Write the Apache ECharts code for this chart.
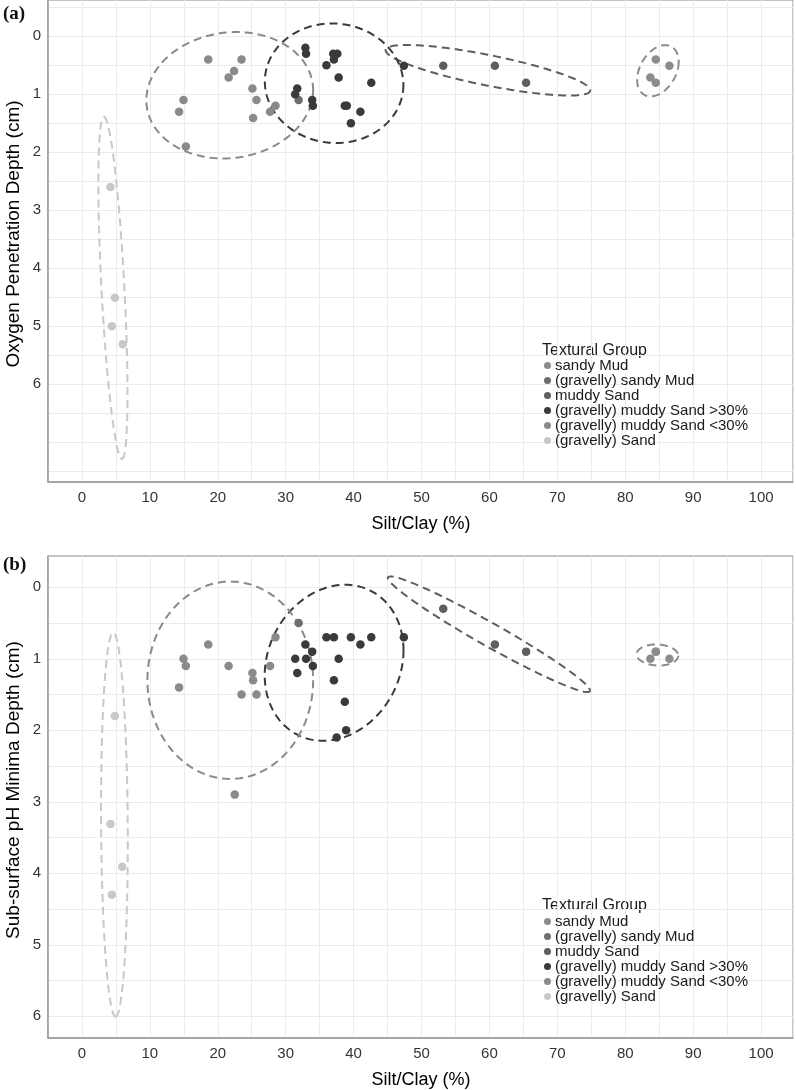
<!DOCTYPE html>
<html><head><meta charset="utf-8">
<script src="https://cdn.jsdelivr.net/npm/echarts@6/dist/echarts.min.js"></script>
<style>html,body{margin:0;padding:0;background:#fff}#c{width:796px;height:1090px}</style>
</head><body><div id="c"></div>
<script>
// ---------- categories / styling keys ----------
const groups = ['sandy Mud', '(gravelly) sandy Mud', 'muddy Sand',
  '(gravelly) muddy Sand >30%', '(gravelly) muddy Sand <30%', '(gravelly) Sand'];
const groupColors = ['#8c8c8c', '#6e6e6e', '#5e5e5e', '#3a3a3a', '#8a8a8a', '#c8c8c8'];

// ---------- tick labels ----------
const xTickLabels = [0, 10, 20, 30, 40, 50, 60, 70, 80, 90, 100];
const yTickLabelsA = [0, 1, 2, 3, 4, 5, 6];
const yTickLabelsB = [0, 1, 2, 3, 4, 5, 6];

// ---------- panel (a): Silt/Clay (%) vs Oxygen Penetration Depth (cm) ----------
const a_sandyMud = [[84.5, 0.40], [86.5, 0.51], [83.7, 0.71], [84.5, 0.80]];
const a_gravSandyMud = [[31.9, 1.10]];
const a_muddySand = [[53.2, 0.51], [60.8, 0.51], [65.4, 0.80]];
const a_muddySandGt30 = [[32.9, 0.20], [33.0, 0.30], [31.7, 0.90], [31.4, 1.00], [33.9, 1.10], [34.0, 1.20],
  [36.0, 0.50], [37.0, 0.30], [37.6, 0.30], [37.1, 0.40], [37.8, 0.71], [38.7, 1.20], [39.0, 1.20],
  [39.6, 1.50], [41.0, 1.30], [42.6, 0.80], [47.4, 0.51]];
const a_muddySandLt30 = [[14.3, 1.30], [14.95, 1.10], [15.3, 1.90], [18.6, 0.40], [21.6, 0.71], [22.4, 0.60],
  [23.5, 0.40], [25.1, 0.90], [25.7, 1.10], [25.2, 1.41], [27.7, 1.30], [28.5, 1.20]];
const a_sand = [[4.2, 2.60], [4.85, 4.51], [4.4, 5.00], [6.0, 5.31]];

// ellipses: [centreX, centreY, uX, uY, vX, vY]  (conjugate semi-axes)
const a_ellSandyMud = [84.81, 0.595, 3.06, -0.155, 0, 0.414];
const a_ellMuddySand = [59.78, 0.586, 15.07, 0.345, 0, 0.267];
const a_ellGt30 = [37.13, 0.81, 10.2, 0.03, 0, 1.03];
const a_ellLt30 = [21.76, 1.017, 12.28, -0.086, 0, 1.086];
const a_ellSand = [4.56, 4.34, 1.32, 2.95, 1.69, 0];

// ---------- panel (b): Silt/Clay (%) vs Sub-surface pH Minima Depth (cm) ----------
const b_sandyMud = [[84.5, 0.90], [83.7, 1.00], [86.5, 1.00], [84.5, 0.90]];
const b_gravSandyMud = [[31.9, 0.50]];
const b_muddySand = [[53.2, 0.30], [60.8, 0.80], [65.4, 0.90]];
const b_muddySandGt30 = [[32.9, 0.80], [31.4, 1.00], [33.0, 1.00], [33.9, 0.90], [34.0, 1.10], [31.7, 1.20],
  [36.0, 0.70], [37.1, 0.70], [37.8, 1.00], [37.1, 1.30], [38.7, 1.60], [38.9, 2.00], [37.5, 2.10],
  [39.6, 0.70], [41.0, 0.80], [42.6, 0.70], [47.4, 0.70]];
const b_muddySandLt30 = [[14.3, 1.40], [14.95, 1.00], [15.3, 1.10], [18.6, 0.80], [21.6, 1.10], [22.5, 2.90],
  [23.5, 1.50], [25.1, 1.20], [25.2, 1.30], [25.7, 1.50], [27.7, 1.10], [28.5, 0.70]];
const b_sand = [[4.85, 1.80], [4.2, 3.31], [5.93, 3.91], [4.4, 4.30]];

const b_ellSandyMud = [84.74, 0.947, 3.06, 0.01, 0, 0.147];
const b_ellMuddySand = [59.93, 0.657, 14.88, 0.787, 0, 0.186];
const b_ellGt30 = [37.13, 1.056, 10.22, -0.175, 0, 1.077];
const b_ellLt30 = [21.84, 1.30, 12.2, 0, 0, 1.38];
const b_ellSand = [4.78, 3.32, 0.176, 2.685, 1.96, 0];

// ---------- build ----------
const mainFont = "'Liberation Sans', Arial, sans-serif";
const GRID_C = '#ebebeb';
const NONE = 'rgba(0,0,0,0)';

function isTick(v, list) {
  const r = Math.round(v);
  return Math.abs(v - r) < 1e-6 && list.indexOf(r) >= 0 ? String(r) : '';
}

function xAxisCfg(gi) {
  return {
    type: 'value', gridIndex: gi, min: -5, max: 104.7, interval: 5,
    axisLine: { show: true, onZero: false, lineStyle: { color: '#9a9a9a', width: 1.5 } },
    axisTick: { show: false },
    axisLabel: { margin: 8, color: '#333', fontSize: 15, fontFamily: mainFont,
      formatter: v => isTick(v, xTickLabels) },
    splitLine: { show: true, lineStyle: { color: GRID_C, width: 1 } }
  };
}
function yAxisCfg(gi, min, max, interval, colorPattern, labels) {
  return {
    type: 'value', gridIndex: gi, inverse: true, min: min, max: max, interval: interval,
    axisLine: { show: true, onZero: false, lineStyle: { color: '#9a9a9a', width: 1.5 } },
    axisTick: { show: false },
    axisLabel: { margin: 7, color: '#333', fontSize: 15, fontFamily: mainFont,
      formatter: v => isTick(v, labels) },
    splitLine: { show: true, lineStyle: { color: colorPattern, width: 1 } }
  };
}

function ellipseRender(params, api) {
  const cx = api.value(0), cy = api.value(1), ux = api.value(2), uy = api.value(3),
    vx = api.value(4), vy = api.value(5);
  const pts = [];
  const N = 160;
  for (let i = 0; i <= N; i++) {
    const t = i / N * 2 * Math.PI;
    pts.push(api.coord([cx + ux * Math.cos(t) + vx * Math.sin(t), cy + uy * Math.cos(t) + vy * Math.sin(t)]));
  }
  return { type: 'polyline', shape: { points: pts },
    style: { fill: 'none', stroke: api.visual('color'), lineWidth: 2, lineDash: [8, 5] } };
}

const panelA = [a_sandyMud, a_gravSandyMud, a_muddySand, a_muddySandGt30, a_muddySandLt30, a_sand];
const panelB = [b_sandyMud, b_gravSandyMud, b_muddySand, b_muddySandGt30, b_muddySandLt30, b_sand];
const ellA = [a_ellSandyMud, null, a_ellMuddySand, a_ellGt30, a_ellLt30, a_ellSand];
const ellB = [b_ellSandyMud, null, b_ellMuddySand, b_ellGt30, b_ellLt30, b_ellSand];

const series = [];
[[ellA, 0], [ellB, 1]].forEach(([ells, gi]) => {
  ells.forEach((e, k) => {
    if (!e) return;
    series.push({ type: 'custom', name: 'ellipse ' + gi + '-' + k, xAxisIndex: gi, yAxisIndex: gi,
      renderItem: ellipseRender, data: [e], silent: true, clip: true, z: 2,
      itemStyle: { color: groupColors[k] }, encode: { x: 0, y: 1 } });
  });
});
[[panelA, 0], [panelB, 1]].forEach(([pan, gi]) => {
  pan.forEach((d, k) => {
    series.push({ type: 'scatter', name: groups[k], xAxisIndex: gi, yAxisIndex: gi,
      data: d, symbolSize: 8.5, z: 3, itemStyle: { color: groupColors[k], opacity: 1 } });
  });
});

function legendCfg(top) {
  return { data: groups, orient: 'vertical', left: 544, top: top, padding: 0, itemGap: 0,
    itemWidth: 7, itemHeight: 7, icon: 'circle', selectedMode: false,
    textStyle: { fontSize: 15, lineHeight: 12.2, color: '#1a1a1a', fontFamily: mainFont, padding: [0, 0, 0, -1] } };
}

const option = {
  backgroundColor: '#fff',
  animation: false,
  grid: [
    { left: 48, top: 0, width: 746, height: 482, show: true, borderColor: '#8a8a8a', borderWidth: 1, containLabel: false },
    { left: 48, top: 556, width: 746, height: 482, show: true, borderColor: '#8a8a8a', borderWidth: 1, containLabel: false }
  ],
  xAxis: [xAxisCfg(0), xAxisCfg(1)],
  yAxis: [
    yAxisCfg(0, -0.625, 7.685, 0.125, [NONE, GRID_C, NONE, NONE], yTickLabelsA),
    yAxisCfg(1, -0.4375, 6.304, 0.0625, [NONE, NONE, NONE, NONE, NONE, NONE, NONE, GRID_C], yTickLabelsB)
  ],
  legend: [legendCfg(358), legendCfg(914)],
  graphic: [
    { type: 'text', x: 3, y: 14, style: { text: '(a)', font: 'bold 19px "Liberation Serif", serif', fill: '#111', verticalAlign: 'middle' } },
    { type: 'text', x: 3, y: 565, style: { text: '(b)', font: 'bold 19px "Liberation Serif", serif', fill: '#111', verticalAlign: 'middle' } },
    { type: 'text', x: 421, y: 524, style: { text: 'Silt/Clay (%)', font: '18px ' + mainFont, fill: '#000', align: 'center', verticalAlign: 'middle' } },
    { type: 'text', x: 421, y: 1080, style: { text: 'Silt/Clay (%)', font: '18px ' + mainFont, fill: '#000', align: 'center', verticalAlign: 'middle' } },
    { type: 'text', x: 14, y: 234, rotation: Math.PI / 2, style: { text: 'Oxygen Penetration Depth (cm)', font: '19px ' + mainFont, fill: '#000', align: 'center', verticalAlign: 'middle' } },
    { type: 'text', x: 14, y: 790, rotation: Math.PI / 2, style: { text: 'Sub-surface pH Minima Depth (cm)', font: '19px ' + mainFont, fill: '#000', align: 'center', verticalAlign: 'middle' } },
    { type: 'text', x: 542, y: 351, style: { text: 'Textural Group', font: '16px ' + mainFont, fill: '#1a1a1a', verticalAlign: 'middle' } },
    { type: 'text', x: 542, y: 906, style: { text: 'Textural Group', font: '16px ' + mainFont, fill: '#1a1a1a', verticalAlign: 'middle' } }
  ],
  series: series
};

const chart = echarts.init(document.getElementById('c'), null, { renderer: 'canvas' });
chart.setOption(option);
</script>
</body></html>
